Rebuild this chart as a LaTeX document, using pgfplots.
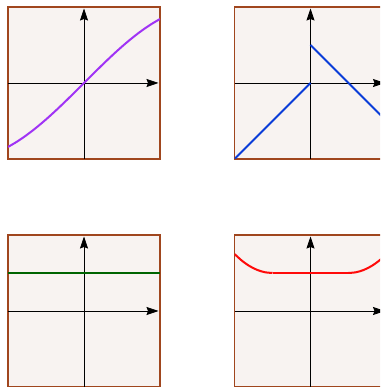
\documentclass[border=0pt]{standalone}
\usepackage{pgfplots}
\pgfplotsset{compat=1.18}
\usetikzlibrary{arrows.meta}
\definecolor{frame}{HTML}{A0461E}
\definecolor{paper}{HTML}{F8F3F1}
\definecolor{violet}{HTML}{A033F5}
\definecolor{blueln}{HTML}{0A3CD8}
\definecolor{greenln}{HTML}{006400}
\definecolor{redln}{HTML}{FF0A0A}
\pgfplotsset{
  panel/.style={
    anchor=south west, scale only axis, width=152pt, height=152pt,
    xmin=-1, xmax=1, ymin=-1, ymax=1,
    axis lines=middle, xtick=\empty, ytick=\empty,
    axis line style={line width=0.8pt, black},
    every inner x axis line/.append style={-{Stealth[length=12pt,width=8pt,inset=1.5pt]}, shorten >=1.5pt},
    every inner y axis line/.append style={-{Stealth[length=12pt,width=8pt,inset=1.5pt]}, shorten >=1.5pt},
    axis background/.style={fill=paper, draw=frame, line width=1.6pt},
  },
  curve/.style={line width=2pt, smooth},
}
\begin{document}
\begin{tikzpicture}
\useasboundingbox (0pt,0pt) rectangle (380pt,387pt);
\clip (0pt,0pt) rectangle (380pt,387pt);
% top left
\begin{axis}[panel, at={(8pt,228pt)}]
\addplot[curve, violet] coordinates {(-1,-0.8415)(-0.9,-0.7833)(-0.8,-0.7174)(-0.7,-0.6442)(-0.6,-0.5646)(-0.5,-0.4794)(-0.4,-0.3894)(-0.3,-0.2955)(-0.2,-0.1987)(-0.1,-0.0998)(0,0)(0.1,0.0998)(0.2,0.1987)(0.3,0.2955)(0.4,0.3894)(0.5,0.4794)(0.6,0.5646)(0.7,0.6442)(0.8,0.7174)(0.9,0.7833)(1,0.8415)};
\end{axis}
% top right
\begin{axis}[panel, at={(234.5pt,228pt)}]
\addplot[line width=2pt, blueln] coordinates {(-1,-1)(0,0)};
\addplot[line width=2pt, blueln] coordinates {(0,0.5)(1,-0.5)};
\end{axis}
% bottom left
\begin{axis}[panel, at={(8pt,0pt)}]
\addplot[line width=2pt, greenln] coordinates {(-1,0.5)(1,0.5)};
\end{axis}
% bottom right
\begin{axis}[panel, at={(234.5pt,0pt)}]
\addplot[curve, redln] coordinates {(-1,0.75)(-0.9,0.66)(-0.8,0.59)(-0.7,0.54)(-0.6,0.51)(-0.5,0.5)};
\addplot[line width=2pt, redln] coordinates {(-0.5,0.5)(0.5,0.5)};
\addplot[curve, redln] coordinates {(0.5,0.5)(0.6,0.51)(0.7,0.54)(0.8,0.59)(0.9,0.66)(1,0.75)};
\end{axis}
\end{tikzpicture}
\end{document}
